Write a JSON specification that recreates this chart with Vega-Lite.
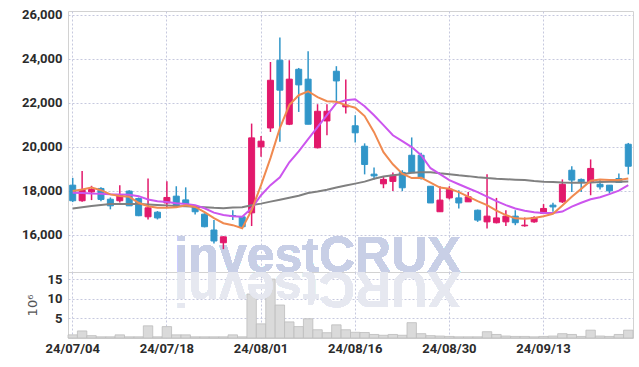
{
  "$schema": "https://vega.github.io/schema/vega-lite/v6.json",
  "padding": {"top": 8, "left": 21, "right": 8, "bottom": 5},
  "background": "#ffffff",
  "spacing": 0,
  "bounds": "flush",
  "config": {
    "view": {"stroke": "#d2d2d2", "strokeWidth": 1},
    "axis": {
      "labelFont": "Roboto",
      "labelFontSize": 13,
      "labelFontWeight": "bold",
      "labelColor": "#2b2b2b",
      "labelOverlap": false,
      "gridColor": "#c6c9de",
      "gridDash": [2, 2],
      "gridWidth": 1,
      "domain": false,
      "ticks": false,
      "title": null
    }
  },
  "datasets": {
    "k": [
      {"d": "24/07/04", "o": 18260, "h": 18590, "l": 17490, "c": 17550, "v": 0.8, "m5": 17990, "m10": 17910, "m60": 17200},
      {"d": "24/07/05", "o": 17550, "h": 18900, "l": 17500, "c": 18060, "v": 1.8, "m5": 18060, "m10": 17900, "m60": 17260},
      {"d": "24/07/08", "o": 17950, "h": 18230, "l": 17580, "c": 18060, "v": 0.6, "m5": 18150, "m10": 17880, "m60": 17310},
      {"d": "24/07/09", "o": 18110, "h": 18160, "l": 17530, "c": 17610, "v": 0.3, "m5": 18030, "m10": 17870, "m60": 17360},
      {"d": "24/07/10", "o": 17620, "h": 17700, "l": 17160, "c": 17320, "v": 0.3, "m5": 17840, "m10": 17850, "m60": 17400},
      {"d": "24/07/11", "o": 17550, "h": 18260, "l": 17470, "c": 17800, "v": 0.8, "m5": 17770, "m10": 17840, "m60": 17405},
      {"d": "24/07/12", "o": 17990, "h": 18030, "l": 17320, "c": 17320, "v": 0.3, "m5": 17730, "m10": 17820, "m60": 17405},
      {"d": "24/07/15", "o": 17650, "h": 17700, "l": 16850, "c": 16870, "v": 0.3, "m5": 17460, "m10": 17760, "m60": 17400},
      {"d": "24/07/16", "o": 16820, "h": 18560, "l": 16700, "c": 17230, "v": 3.1, "m5": 17300, "m10": 17610, "m60": 17380},
      {"d": "24/07/17", "o": 17030, "h": 17080, "l": 16700, "c": 16770, "v": 0.3, "m5": 17230, "m10": 17530, "m60": 17360},
      {"d": "24/07/18", "o": 17450, "h": 18440, "l": 17230, "c": 17700, "v": 2.9, "m5": 17230, "m10": 17490, "m60": 17340},
      {"d": "24/07/19", "o": 17760, "h": 18210, "l": 17300, "c": 17300, "v": 0.8, "m5": 17250, "m10": 17440, "m60": 17310},
      {"d": "24/07/22", "o": 17590, "h": 18160, "l": 17350, "c": 17410, "v": 0.8, "m5": 17340, "m10": 17400, "m60": 17300},
      {"d": "24/07/23", "o": 17250, "h": 17300, "l": 16930, "c": 17050, "v": 0.3, "m5": 17270, "m10": 17350, "m60": 17280},
      {"d": "24/07/24", "o": 16940, "h": 16980, "l": 16340, "c": 16370, "v": 0.3, "m5": 17030, "m10": 17210, "m60": 17260},
      {"d": "24/07/25", "o": 16220, "h": 16670, "l": 15610, "c": 15720, "v": 0.3, "m5": 16760, "m10": 17010, "m60": 17230},
      {"d": "24/07/26", "o": 15640, "h": 15930, "l": 15350, "c": 15910, "v": 0.3, "m5": 16530, "m10": 16900, "m60": 17210},
      {"d": "24/07/29", "o": 16880, "h": 17120, "l": 16670, "c": 16840, "v": 0.8, "m5": 16440, "m10": 16850, "m60": 17240},
      {"d": "24/07/30", "o": 16820, "h": 16830, "l": 16360, "c": 16370, "v": 0.3, "m5": 16300, "m10": 16820, "m60": 17260},
      {"d": "24/07/31", "o": 17000, "h": 21060, "l": 16400, "c": 20410, "v": 11.2, "m5": 17120, "m10": 17210, "m60": 17350},
      {"d": "24/08/01", "o": 20000, "h": 20490, "l": 19550, "c": 20260, "v": 3.6, "m5": 18260, "m10": 17800, "m60": 17420},
      {"d": "24/08/02", "o": 20860, "h": 23860, "l": 20680, "c": 23030, "v": 15.0, "m5": 19490, "m10": 18260, "m60": 17510},
      {"d": "24/08/05", "o": 23940, "h": 24970, "l": 20230, "c": 22580, "v": 8.4, "m5": 20850, "m10": 18620, "m60": 17600},
      {"d": "24/08/06", "o": 21030, "h": 23940, "l": 20990, "c": 23080, "v": 4.1, "m5": 21900, "m10": 19300, "m60": 17690},
      {"d": "24/08/07", "o": 23530, "h": 23590, "l": 21590, "c": 22820, "v": 2.9, "m5": 22350, "m10": 19800, "m60": 17780},
      {"d": "24/08/08", "o": 23080, "h": 24350, "l": 21030, "c": 21030, "v": 4.9, "m5": 22530, "m10": 20350, "m60": 17900},
      {"d": "24/08/09", "o": 19960, "h": 21940, "l": 19930, "c": 21620, "v": 2.1, "m5": 22260, "m10": 20900, "m60": 17970},
      {"d": "24/08/12", "o": 21180, "h": 21940, "l": 20530, "c": 21620, "v": 1.35, "m5": 22080, "m10": 21440, "m60": 18050},
      {"d": "24/08/13", "o": 23440, "h": 23670, "l": 22050, "c": 23000, "v": 3.35, "m5": 22050, "m10": 21990, "m60": 18150},
      {"d": "24/08/14", "o": 21820, "h": 23060, "l": 21520, "c": 21900, "v": 2.1, "m5": 21900, "m10": 22120, "m60": 18240},
      {"d": "24/08/16", "o": 20960, "h": 21440, "l": 20200, "c": 20640, "v": 1.45, "m5": 21780, "m10": 22170, "m60": 18330},
      {"d": "24/08/19", "o": 20030, "h": 20160, "l": 18750, "c": 19200, "v": 1.4, "m5": 21400, "m10": 21850, "m60": 18420},
      {"d": "24/08/20", "o": 18760, "h": 19060, "l": 18520, "c": 18680, "v": 0.9, "m5": 20670, "m10": 21440, "m60": 18550},
      {"d": "24/08/21", "o": 18320, "h": 18640, "l": 18120, "c": 18520, "v": 0.7, "m5": 19760, "m10": 20990, "m60": 18650},
      {"d": "24/08/22", "o": 18430, "h": 18840, "l": 17990, "c": 18710, "v": 0.9, "m5": 19210, "m10": 20530, "m60": 18710},
      {"d": "24/08/23", "o": 18840, "h": 18940, "l": 17990, "c": 18140, "v": 0.7, "m5": 18780, "m10": 20260, "m60": 18760},
      {"d": "24/08/26", "o": 19620, "h": 20430, "l": 18820, "c": 18820, "v": 3.9, "m5": 18580, "m10": 19990, "m60": 18820},
      {"d": "24/08/27", "o": 19620, "h": 19730, "l": 18520, "c": 18560, "v": 1.1, "m5": 18600, "m10": 19620, "m60": 18850},
      {"d": "24/08/28", "o": 18210, "h": 18210, "l": 17450, "c": 17450, "v": 0.6, "m5": 18370, "m10": 19030, "m60": 18850},
      {"d": "24/08/29", "o": 17050, "h": 18210, "l": 17050, "c": 17580, "v": 0.5, "m5": 18150, "m10": 18760, "m60": 18800},
      {"d": "24/08/30", "o": 17680, "h": 18210, "l": 17610, "c": 18080, "v": 0.4, "m5": 18100, "m10": 18490, "m60": 18760},
      {"d": "24/09/02", "o": 17680, "h": 18030, "l": 17200, "c": 17450, "v": 0.3, "m5": 17940, "m10": 18300, "m60": 18710},
      {"d": "24/09/03", "o": 17500, "h": 17950, "l": 17500, "c": 17730, "v": 0.3, "m5": 17740, "m10": 18120, "m60": 18670},
      {"d": "24/09/04", "o": 17120, "h": 17150, "l": 16590, "c": 16670, "v": 0.3, "m5": 17530, "m10": 17940, "m60": 18620},
      {"d": "24/09/05", "o": 16590, "h": 18750, "l": 16290, "c": 16850, "v": 1.6, "m5": 17350, "m10": 17740, "m60": 18580},
      {"d": "24/09/06", "o": 16550, "h": 17680, "l": 16520, "c": 16770, "v": 0.9, "m5": 17100, "m10": 17530, "m60": 18550},
      {"d": "24/09/09", "o": 16590, "h": 17120, "l": 16400, "c": 16850, "v": 0.5, "m5": 16900, "m10": 17350, "m60": 18530},
      {"d": "24/09/10", "o": 16850, "h": 17120, "l": 16440, "c": 16550, "v": 0.4, "m5": 16750, "m10": 17200, "m60": 18510},
      {"d": "24/09/11", "o": 16410, "h": 16790, "l": 16370, "c": 16440, "v": 0.4, "m5": 16730, "m10": 17100, "m60": 18490},
      {"d": "24/09/12", "o": 16590, "h": 16850, "l": 16550, "c": 16790, "v": 0.3, "m5": 16770, "m10": 17030, "m60": 18450},
      {"d": "24/09/13", "o": 16970, "h": 17400, "l": 16940, "c": 17200, "v": 0.4, "m5": 16850, "m10": 16990, "m60": 18420},
      {"d": "24/09/19", "o": 17350, "h": 17460, "l": 17050, "c": 17270, "v": 0.5, "m5": 16960, "m10": 16990, "m60": 18400},
      {"d": "24/09/20", "o": 17500, "h": 18520, "l": 17450, "c": 18300, "v": 1.1, "m5": 17330, "m10": 17060, "m60": 18380},
      {"d": "24/09/23", "o": 18940, "h": 19120, "l": 17950, "c": 18490, "v": 0.9, "m5": 17730, "m10": 17280, "m60": 18370},
      {"d": "24/09/24", "o": 18520, "h": 18560, "l": 17950, "c": 18410, "v": 0.4, "m5": 18090, "m10": 17460, "m60": 18370},
      {"d": "24/09/25", "o": 18410, "h": 19430, "l": 17800, "c": 19020, "v": 2.0, "m5": 18460, "m10": 17620, "m60": 18380},
      {"d": "24/09/26", "o": 18300, "h": 18520, "l": 18060, "c": 18180, "v": 0.5, "m5": 18520, "m10": 17710, "m60": 18400},
      {"d": "24/09/27", "o": 18260, "h": 18260, "l": 17880, "c": 18000, "v": 0.4, "m5": 18490, "m10": 17850, "m60": 18410},
      {"d": "24/09/30", "o": 18560, "h": 18790, "l": 18380, "c": 18380, "v": 0.9, "m5": 18490, "m10": 18010, "m60": 18420},
      {"d": "24/10/02", "o": 20120, "h": 20180, "l": 18750, "c": 19120, "v": 2.0, "m5": 18560, "m10": 18260, "m60": 18430}
    ]
  },
  "vconcat": [
    {
      "width": 565,
      "height": 261,
      "data": {"name": "k"},
      "encoding": {
        "x": {
          "field": "d",
          "type": "ordinal",
          "scale": {"type": "band", "paddingInner": 0, "paddingOuter": 0},
          "axis": {
            "values": ["24/07/04", "24/07/18", "24/08/01", "24/08/16", "24/08/30", "24/09/13"],
            "labels": false,
            "grid": true,
            "bandPosition": 0.5,
            "orient": "bottom"
          }
        }
      },
      "layer": [
        {
          "mark": {"type": "text", "font": "Liberation Sans", "fontSize": 50, "fontWeight": "bold", "color": "#c8cfe6", "opacity": 0.8, "align": "center", "baseline": "alphabetic", "dx": 0},
          "encoding": {
            "x": {"datum": "24/08/09", "type": "ordinal"},
            "y": {"datum": 14330, "type": "quantitative"},
            "text": {"value": "investCRUX"}
          }
        },
        {
          "mark": {"type": "rule", "strokeWidth": 1.5},
          "encoding": {
            "y": {
              "field": "l",
              "type": "quantitative",
              "scale": {"domain": [14310, 26180], "nice": false, "zero": false},
              "axis": {"values": [16000, 18000, 20000, 22000, 24000, 26000], "format": ",d", "labelPadding": 6, "grid": true, "labelOverlap": false}
            },
            "y2": {"field": "h"},
            "color": {"condition": {"test": "datum.c >= datum.o", "value": "#e2196b"}, "value": "#3196c9"}
          }
        },
        {
          "mark": {"type": "bar", "width": 6, "strokeWidth": 1},
          "encoding": {
            "y": {"field": "o", "type": "quantitative"},
            "y2": {"field": "c"},
            "color": {"condition": {"test": "datum.c >= datum.o", "value": "#e2196b"}, "value": "#3196c9"},
            "stroke": {"condition": {"test": "datum.c >= datum.o", "value": "#e2196b"}, "value": "#3196c9"}
          }
        },
        {
          "mark": {"type": "line", "color": "#808080", "strokeWidth": 2},
          "encoding": {"y": {"field": "m60", "type": "quantitative"}}
        },
        {
          "mark": {"type": "line", "color": "#cc55ee", "strokeWidth": 2},
          "encoding": {"y": {"field": "m10", "type": "quantitative"}}
        },
        {
          "mark": {"type": "line", "color": "#f08a50", "strokeWidth": 2},
          "encoding": {"y": {"field": "m5", "type": "quantitative"}}
        }
      ]
    },
    {
      "width": 565,
      "height": 66,
      "data": {"name": "k"},
      "encoding": {
        "x": {
          "field": "d",
          "type": "ordinal",
          "scale": {"type": "band", "paddingInner": 0, "paddingOuter": 0},
          "axis": {
            "values": ["24/07/04", "24/07/18", "24/08/01", "24/08/16", "24/08/30", "24/09/13"],
            "labelAngle": 0,
            "labelPadding": 4,
            "grid": true,
            "bandPosition": 0.5,
            "orient": "bottom"
          }
        }
      },
      "layer": [
        {
          "mark": {"type": "bar", "color": "#dadada", "stroke": "#bcbcbc", "strokeWidth": 0.8},
          "encoding": {
            "y": {
              "field": "v",
              "type": "quantitative",
              "scale": {"domain": [0, 16.8], "nice": false},
              "axis": {"values": [5, 10, 15], "labelOverlap": false, "labelPadding": 6, "grid": true, "title": "10⁶", "titleFont": "DejaVu Sans", "titleFontSize": 13, "titleFontWeight": "normal", "titleColor": "#555555", "titlePadding": 8}
            }
          }
        },
        {
          "mark": {"type": "text", "font": "Liberation Sans", "fontSize": 50, "fontWeight": "bold", "color": "#e6e8f0", "opacity": 0.55, "align": "center", "baseline": "alphabetic", "angle": 180, "dx": 0},
          "encoding": {
            "x": {"datum": "24/08/09", "type": "ordinal"},
            "y": {
              "datum": 16.8,
              "type": "quantitative",
              "axis": {"values": [5, 10, 15], "labelOverlap": false, "labelPadding": 6, "grid": true, "title": "10⁶", "titleFont": "DejaVu Sans", "titleFontSize": 13, "titleFontWeight": "normal", "titleColor": "#555555", "titlePadding": 8}
            },
            "text": {"value": "XURCtsevni"}
          }
        }
      ]
    }
  ]
}
